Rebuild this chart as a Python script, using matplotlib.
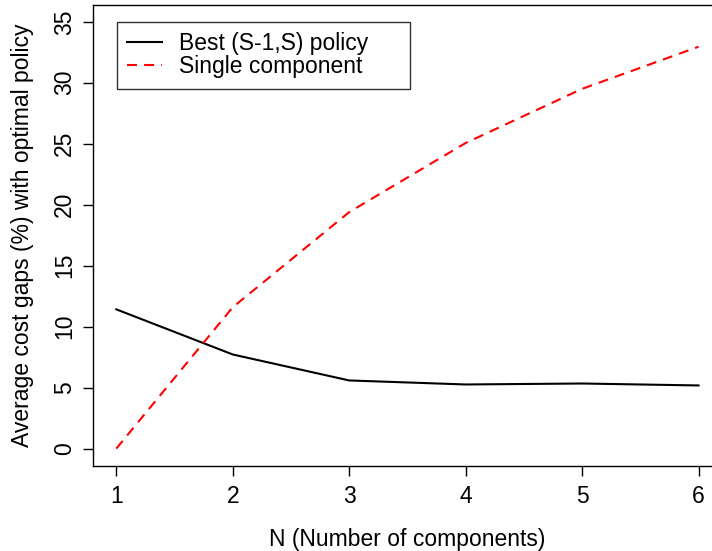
import matplotlib
matplotlib.use("Agg")
import matplotlib.pyplot as plt

N = [1, 2, 3, 4, 5, 6]
best_s1s = [11.42, 7.72, 5.59, 5.26, 5.34, 5.18]
single_comp = [0.0, 11.59, 19.39, 25.06, 29.5, 32.95]
xticks = [1, 2, 3, 4, 5, 6]
yticks = [0, 5, 10, 15, 20, 25, 30, 35]

plt.rcParams['font.family'] = ['Liberation Sans', 'DejaVu Sans']
FS = 16.5

fig = plt.figure(figsize=(7.12, 5.51), dpi=100)
ax = fig.add_axes([0.1306, 0.1548, 1.0138 - 0.1306, 0.9915 - 0.1548])

ax.plot(N, best_s1s, color='black', lw=1.5, label='Best (S-1,S) policy')
ax.plot(N, single_comp, color='red', lw=1.5, dashes=(4.8, 3.4), label='Single component')

ax.set_xlim(0.8, 6.2)
ax.set_ylim(-1.4, 36.4)
ax.set_xticks(xticks)
ax.set_yticks(yticks)
ax.tick_params(axis='both', direction='out', length=7.2, width=1, labelsize=FS, pad=5)
ax.tick_params(axis='x', pad=7)
for lab in ax.get_yticklabels():
    lab.set_rotation(90)
    lab.set_va('center')
for s in ax.spines.values():
    s.set_linewidth(1)

ax.set_xlabel('N (Number of components)', fontsize=FS, labelpad=14)
ax.set_ylabel('Average cost gaps (%) with optimal policy', fontsize=FS, labelpad=14)

ax_w_px = (1.0138 - 0.1306) * 712
ax_h_px = (0.9915 - 0.1548) * 551
x0 = (117 - 93) / ax_w_px
w = (410 - 117) / ax_w_px
y_top = (465.7 - 22) / ax_h_px
h = 67 / ax_h_px
leg = ax.legend(loc='upper left', bbox_to_anchor=(x0, y_top - h, w, h), mode='expand',
                frameon=True, fancybox=False, edgecolor='black', fontsize=FS,
                handlelength=1.5, handletextpad=0.75, borderpad=0.45, labelspacing=0.0,
                borderaxespad=0)
leg.get_frame().set_linewidth(1)

fig.savefig('out.png', dpi=100)
